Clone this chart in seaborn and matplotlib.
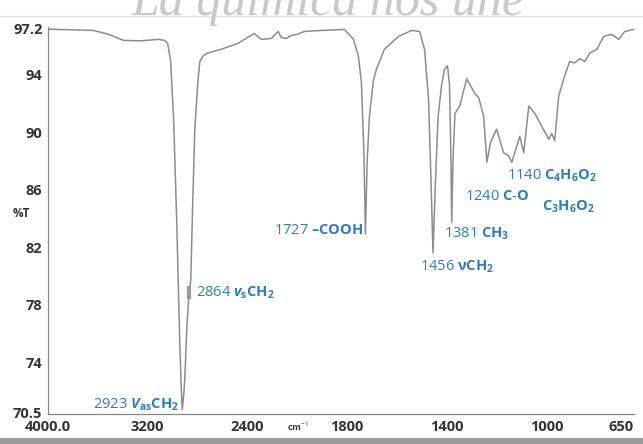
import numpy as np
import pandas as pd
import matplotlib
matplotlib.use("Agg")
import matplotlib.pyplot as plt
from matplotlib.patches import Rectangle
import seaborn as sns

# IR spectrum: wavenumber (cm-1) and transmittance (%T)
wavenumber = [4000, 3637, 3516, 3395, 3258, 3113, 3065, 3040, 3016, 2992, 2968,
              2944, 2930, 2923, 2910, 2903, 2887, 2871, 2864, 2855, 2839, 2823,
              2798, 2782, 2758, 2726, 2613, 2476, 2347, 2290, 2210, 2153, 2129,
              2089, 2048, 2000, 1972, 1904, 1811, 1775, 1755, 1743, 1733, 1727,
              1720, 1711, 1695, 1683, 1651, 1594, 1542, 1510, 1490, 1474, 1464,
              1456, 1446, 1436, 1422, 1410, 1398, 1390, 1385, 1381, 1376, 1368,
              1349, 1321, 1289, 1273, 1253, 1240, 1225, 1201, 1173, 1153, 1140,
              1108, 1092, 1072, 1048, 1020, 992, 980, 968, 952, 928, 908, 888,
              867, 847, 827, 799, 771, 739, 711, 687, 651]
transmittance = [97.15, 97.06, 96.8, 96.37, 96.34, 96.44, 96.37, 96.16, 94.9, 90.8, 83.9,
                 75.6, 71.9, 70.7, 71.9, 72.8, 76.3, 78.5, 79.0, 79.7, 85.2, 90.1,
                 93.5, 94.9, 95.26, 95.47, 95.75, 96.16, 96.85, 96.44, 96.5, 96.99, 96.58,
                 96.5, 96.72, 96.79, 96.99, 97.06, 97.13, 96.44, 95.26, 93.4, 88.5, 82.9,
                 88.0, 91.1, 93.6, 94.36, 95.75, 96.65, 97.06, 96.99, 95.75, 92.29, 86.6,
                 81.6, 86.6, 91.0, 93.2, 94.36, 94.6, 93.3, 89.0, 83.7, 88.0, 91.3,
                 91.8, 93.7, 92.7, 92.4, 91.1, 87.9, 89.3, 90.2, 88.56, 88.35, 87.9,
                 89.7, 88.56, 91.8, 91.3, 90.4, 89.5, 89.9, 89.4, 92.5, 93.9, 94.9, 94.8,
                 95.1, 94.9, 95.5, 95.75, 96.65, 96.79, 96.44, 96.99, 97.13]

x_ticks = [4000, 3200, 2400, 1800, 1400, 1000, 650]
x_tick_labels = ["4000.0", "3200", "2400", "1800", "1400", "1000", "650"]
y_ticks = [97.2, 94, 90, 86, 82, 78, 74, 70.5]
y_tick_labels = ["97.2", "94", "90", "86", "82", "78", "74", "70.5"]

# band assignments: number, formula, anchor position and alignment
band_numbers = ["2923", "2864", "1727", "1456", "1381", "1240", "1140", ""]
band_formulas = [r"$\mathbfit{V}_{\mathbf{as}}\mathbf{CH_2}$",
                 r"$\mathbfit{v}_{\mathbf{s}}\mathbf{CH_2}$",
                 r"$\mathbf{–COOH}$",
                 r"$\mathbf{νCH_2}$",
                 r"$\mathbf{CH_3}$",
                 r"$\mathbf{C\text{-}O}$",
                 r"$\mathbf{C_4H_6O_2}$",
                 r"$\mathbf{C_3H_6O_2}$"]
label_x = [2952, 2815, 1735, 1510, 1410, 1329, 1161, 1020]
label_y = [71.06, 78.8, 83.16, 80.6, 82.95, 85.5, 86.96, 84.8]
label_ha = ["right", "left", "right", "left", "left", "left", "left", "left"]

sns.set_theme(style="white")
plt.rcParams["font.family"] = ["Open Sans", "DejaVu Sans"]
plt.rcParams["mathtext.fontset"] = "custom"
plt.rcParams["mathtext.rm"] = "Open Sans"
plt.rcParams["mathtext.it"] = "Open Sans:italic"
plt.rcParams["mathtext.bf"] = "Open Sans:bold"
plt.rcParams["mathtext.bfit"] = "Open Sans:bold:italic"

fig = plt.figure(figsize=(6.43, 4.44), dpi=100)
ax = fig.add_axes([48 / 643, 30 / 444, 586 / 643, 387 / 444])

df = pd.DataFrame({"wavenumber": wavenumber, "T": transmittance})
sns.lineplot(data=df, x="wavenumber", y="T", ax=ax, color="#8c8c8c",
             linewidth=1.1, estimator=None)


# wavenumber axis compressed by half above 2000 cm-1
def fwd(x):
    x = np.asarray(x, dtype=float)
    return np.where(x > 2000, 2000 + (x - 2000) / 2, x)


def inv(u):
    u = np.asarray(u, dtype=float)
    return np.where(u > 2000, 2000 + (u - 2000) * 2, u)


ax.set_xscale("function", functions=(fwd, inv))
ax.set_xlim(4000, 650)
ax.set_ylim(70.4, 97.3)

ax.set_xticks(x_ticks)
ax.set_xticklabels(x_tick_labels)
ax.set_yticks(y_ticks)
ax.set_yticklabels(y_tick_labels)
ax.tick_params(axis="both", labelsize=10.5, colors="#333333", length=3,
               width=0.8, pad=1, direction="out")
ax.tick_params(axis="x", pad=1.5)
for lab in ax.get_xticklabels() + ax.get_yticklabels():
    lab.set_fontweight("bold")
ax.get_xticklabels()[-1].set_horizontalalignment("right")
ax.set_xlabel("")
ax.set_ylabel("")

for side in ["top", "right"]:
    ax.spines[side].set_visible(False)
for side in ["left", "bottom"]:
    ax.spines[side].set_color("#888888")
    ax.spines[side].set_linewidth(0.9)

# shoulder marker at 2864
ax.plot([2866, 2866], [78.4, 79.3], color="#999999", linewidth=3,
        solid_capstyle="butt")

blue = "#2e7cc0"
for num, formula, lx, ly, ha in zip(band_numbers, band_formulas,
                                    label_x, label_y, label_ha):
    text = (num + " " if num else "") + formula
    ax.text(lx, ly, text, ha=ha, va="center", fontsize=10.5, color=blue)

fig.text(21 / 643, 1 - 213 / 444, "%T", fontsize=8.5, fontweight="bold",
         color="#333333", ha="center", va="center")
fig.text(298 / 643, 1 - 427 / 444, r"cm$^{-1}$", fontsize=6.5, fontweight="bold",
         color="#333333", ha="center", va="center")

# header watermark and separator
fig.text(0.51, 1 - 15 / 444, "La química nos une", fontsize=36,
         family=["Liberation Serif", "DejaVu Serif"], style="italic",
         color="#c8c8c8", ha="center", va="baseline")
fig.add_artist(plt.Line2D([0, 1], [1 - 16 / 444, 1 - 16 / 444],
                          color="#e4e4e4", linewidth=1))
fig.add_artist(Rectangle((0, 0), 1, 6 / 444, transform=fig.transFigure,
                         facecolor="#9a9a9a", edgecolor="none"))

fig.savefig("out.png", dpi=100)
